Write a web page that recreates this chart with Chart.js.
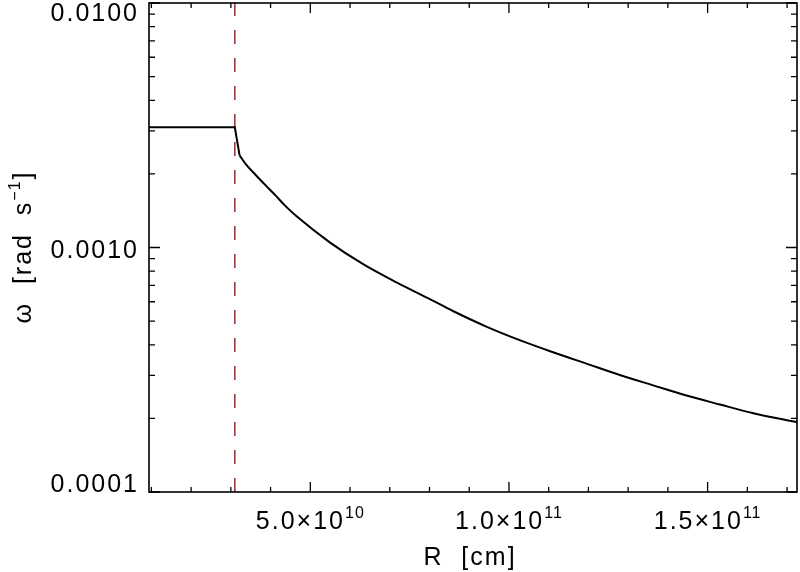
<!DOCTYPE html>
<html>
<head>
<meta charset="utf-8">
<script src="https://cdn.jsdelivr.net/npm/chart.js@4.4.1/dist/chart.umd.min.js"></script>
<style>
  html, body { margin: 0; padding: 0; background: #fff; }
  #wrap { width: 800px; height: 572px; }
</style>
</head>
<body>
<div id="wrap"><canvas id="chart" width="800" height="572"></canvas></div>
<script>
// radius [cm] and angular velocity [rad/s]
const radius = [0.94e10, 3.10e10, 3.22e10, 3.37e10, 3.62e10, 3.87e10, 4.13e10, 4.37e10, 4.67e10,
  5.49e10, 6.33e10, 7.17e10, 8.01e10, 8.59e10, 9.43e10, 10.27e10, 11.11e10, 11.95e10,
  12.79e10, 13.63e10, 14.47e10, 15.31e10, 16.15e10, 17.25e10];
const omega = [3.10e-3, 3.10e-3, 2.38e-3, 2.20e-3, 1.985e-3, 1.80e-3, 1.63e-3, 1.48e-3, 1.335e-3,
  1.05e-3, 8.55e-4, 7.20e-4, 6.15e-4, 5.50e-4, 4.75e-4, 4.18e-4, 3.73e-4, 3.35e-4,
  3.01e-4, 2.73e-4, 2.48e-4, 2.28e-4, 2.10e-4, 1.93e-4];
// index where the flat core + steep drop ends and the smooth tail begins
const kinkIndex = 2;

// dashed marker radius
const markerR = 3.1e10;

const xRange = [0.94e10, 1.725e11];
const yRange = [1e-4, 1e-2];

const xMajorTicks = [5e10, 1e11, 1.5e11];
const xTickMantissa = ['5.0', '1.0', '1.5'];
const xTickExponent = ['10', '11', '11'];
const xMinorStep = 1e10;

const yMajorTicks = [1e-4, 1e-3, 1e-2];
const yTickLabels = ['0.0001', '0.0010', '0.0100'];

const FONT = '"Liberation Sans", Arial, sans-serif';

// IDL-style box: inward ticks on all four sides, labels drawn by hand
const axisDecor = {
  id: 'axisDecor',
  afterDraw(chart) {
    const { ctx, chartArea: a, scales: { x, y } } = chart;
    ctx.save();
    ctx.strokeStyle = '#000';
    ctx.lineWidth = 1.6;
    ctx.strokeRect(a.left, a.top, a.right - a.left, a.bottom - a.top);

    ctx.lineWidth = 1.3;
    ctx.beginPath();
    // x ticks, bottom and top
    for (let k = 1; k * xMinorStep <= xRange[1]; k++) {
      const v = k * xMinorStep;
      if (v < xRange[0]) continue;
      const px = x.getPixelForValue(v);
      const len = k % 5 === 0 ? 10 : 5;
      ctx.moveTo(px, a.bottom); ctx.lineTo(px, a.bottom - len);
      ctx.moveTo(px, a.top); ctx.lineTo(px, a.top + len);
    }
    // y ticks, left and right
    yMajorTicks.forEach((d, i) => {
      const py = y.getPixelForValue(d);
      ctx.moveTo(a.left, py); ctx.lineTo(a.left + 11, py);
      ctx.moveTo(a.right, py); ctx.lineTo(a.right - 11, py);
      if (i === yMajorTicks.length - 1) return;
      for (let m = 2; m <= 9; m++) {
        const pm = y.getPixelForValue(d * m);
        ctx.moveTo(a.left, pm); ctx.lineTo(a.left + 6, pm);
        ctx.moveTo(a.right, pm); ctx.lineTo(a.right - 6, pm);
      }
    });
    ctx.stroke();

    ctx.fillStyle = '#000';
    const big = '25px ' + FONT;
    const small = '16px ' + FONT;
    const setFont = (f, sp) => { ctx.font = f; ctx.letterSpacing = sp; };

    // y tick labels, kept inside the box height like IDL does
    setFont(big, '2px');
    ctx.textAlign = 'right';
    ctx.textBaseline = 'alphabetic';
    yMajorTicks.forEach((v, i) => {
      let c = y.getPixelForValue(v) + 1;
      c = Math.min(Math.max(c, a.top + 9), a.bottom - 9);
      ctx.fillText(yTickLabels[i], 139, c + 9);
    });

    // x tick labels with superscript exponent
    ctx.textAlign = 'left';
    xMajorTicks.forEach((v, i) => {
      const main = xTickMantissa[i] + '\u00d710';
      setFont(big, '2px');
      const w1 = ctx.measureText(main).width;
      setFont(small, '1px');
      const w2 = ctx.measureText(xTickExponent[i]).width;
      const start = x.getPixelForValue(v) - (w1 + w2) / 2;
      setFont(big, '2px');
      ctx.fillText(main, start, 529);
      setFont(small, '1px');
      ctx.fillText(xTickExponent[i], start + w1, 518);
    });

    // x title
    setFont(big, '2px');
    ctx.textAlign = 'center';
    ctx.fillText('R  [cm]', 470, 565);

    // y title, rotated
    ctx.translate(31, (a.top + a.bottom) / 2);
    ctx.rotate(-Math.PI / 2);
    ctx.textAlign = 'left';
    const p1 = '\u03c9  [rad  s', p2 = '\u22121', p3 = ']';
    setFont(big, '2px');
    const w1 = ctx.measureText(p1).width, w3 = ctx.measureText(p3).width;
    setFont(small, '1px');
    const w2 = ctx.measureText(p2).width;
    const sx = -(w1 + w2 + w3) / 2;
    setFont(big, '2px');
    ctx.fillText(p1, sx, 0);
    setFont(small, '1px');
    ctx.fillText(p2, sx + w1, -11);
    setFont(big, '2px');
    ctx.fillText(p3, sx + w1 + w2 + 1, 0);

    ctx.restore();
  }
};

const points = radius.map((r, i) => ({ x: r, y: omega[i] }));

const ctx = document.getElementById('chart').getContext('2d');
new Chart(ctx, {
  type: 'line',
  data: {
    datasets: [
      {
        label: 'core',
        data: points.slice(0, kinkIndex + 1),
        borderColor: '#000',
        borderWidth: 2,
        pointRadius: 0,
        tension: 0,
        fill: false
      },
      {
        label: 'tail',
        data: points.slice(kinkIndex),
        borderColor: '#000',
        borderWidth: 2,
        pointRadius: 0,
        cubicInterpolationMode: 'monotone',
        fill: false
      },
      {
        label: 'marker',
        data: [{ x: markerR, y: yRange[0] }, { x: markerR, y: yRange[1] }],
        borderColor: '#a02828',
        borderWidth: 1.5,
        borderDash: [14, 14],
        pointRadius: 0,
        fill: false
      }
    ]
  },
  options: {
    responsive: false,
    devicePixelRatio: 1,
    animation: false,
    layout: { padding: { left: 149, top: 3, right: 3, bottom: 80 } },
    plugins: {
      legend: { display: false },
      tooltip: { enabled: false }
    },
    scales: {
      x: { type: 'linear', min: xRange[0], max: xRange[1], display: false },
      y: { type: 'logarithmic', min: yRange[0], max: yRange[1], display: false }
    }
  },
  plugins: [axisDecor]
});
</script>
</body>
</html>
